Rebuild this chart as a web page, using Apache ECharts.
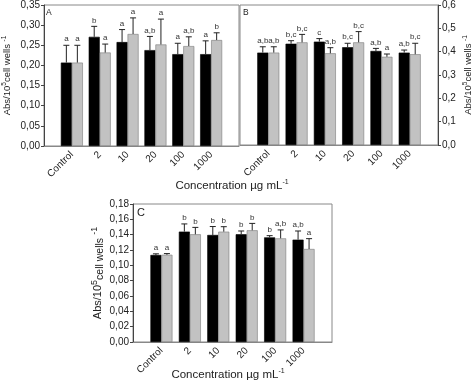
<!DOCTYPE html>
<html><head><meta charset="utf-8">
<script src="https://cdn.jsdelivr.net/npm/echarts@6/dist/echarts.min.js"></script>
<style>html,body{margin:0;padding:0;background:#fff}#c{width:474px;height:384px}</style>
</head><body><div id="c"></div>
<script>
const categories = ['Control', '2', '10', '20', '100', '1000'];

const aBlack = [0.207, 0.271, 0.258, 0.238, 0.228, 0.228];
const aBlackErr = [0.043, 0.026, 0.031, 0.034, 0.027, 0.033];
const aGrey = [0.207, 0.232, 0.278, 0.252, 0.248, 0.263];
const aGreyErr = [0.043, 0.021, 0.040, 0.063, 0.023, 0.018];
const aBlackLetters = ['a', 'b', 'a', 'a,b', 'a', 'a'];
const aGreyLetters = ['a', 'a', 'a', 'a', 'a,b', 'b'];

const bBlack = [0.396, 0.434, 0.443, 0.419, 0.403, 0.396];
const bBlackErr = [0.025, 0.013, 0.013, 0.017, 0.011, 0.011];
const bGrey = [0.396, 0.440, 0.393, 0.440, 0.378, 0.389];
const bGreyErr = [0.025, 0.034, 0.024, 0.046, 0.012, 0.047];
const bBlackLetters = ['a,b', 'b,c', 'c', 'b,c', 'a,b', 'a,b'];
const bGreyLetters = ['a,b', 'b,c', 'a,b', 'b,c', 'a', 'b,c'];

const cBlack = [0.1135, 0.144, 0.1396, 0.1405, 0.1365, 0.1335];
const cBlackErr = [0.0015, 0.010, 0.011, 0.0043, 0.0022, 0.0113];
const cGrey = [0.1138, 0.1405, 0.1439, 0.1457, 0.1352, 0.1213];
const cGreyErr = [0.0015, 0.009, 0.0065, 0.009, 0.011, 0.0135];
const cBlackLetters = ['a', 'b', 'b', 'b', 'b', 'a,b'];
const cGreyLetters = ['a', 'b', 'b', 'b', 'a,b', 'a'];

const FONT = 'Liberation Sans, Arial, sans-serif';
const BAR_W = 11;
const padded = ['', ...categories, ''];
const pad = arr => ['-', ...arr, '-'];

function commaFmt(d) { return v => v.toFixed(d).replace('.', ','); }

function xAxis(gi) {
  return {
    type: 'category', gridIndex: gi, data: padded, boundaryGap: false,
    axisTick: { show: false },
    axisLine: { lineStyle: { color: '#888', width: 1 } },
    axisLabel: { rotate: 45, interval: 0, fontSize: 10, color: '#222', fontFamily: FONT, margin: 7 },
    splitLine: { show: false }
  };
}
function yAxis(gi, max, interval, dec, pos, name, nameGap, rich) {
  return {
    type: 'value', gridIndex: gi, min: 0, max: max, interval: interval, position: pos,
    axisLine: { show: true, lineStyle: { color: '#444' } },
    axisTick: { show: true, length: 3, lineStyle: { color: '#444' } },
    axisLabel: { formatter: commaFmt(dec), fontSize: 10, color: '#222', fontFamily: FONT, margin: 4 },
    splitLine: { show: false },
    name: name, nameLocation: 'middle', nameRotate: 90, nameGap: nameGap,
    nameTextStyle: { fontFamily: FONT, color: '#222', rich: rich }
  };
}
function bars(gi, data, color, border) {
  return {
    type: 'bar', xAxisIndex: gi, yAxisIndex: gi, data: pad(data), barWidth: BAR_W, barGap: '0%',
    itemStyle: { color: color, borderColor: border, borderWidth: 0.6 }, silent: true, z: 2
  };
}
function errs(gi, means, sds, letters, side) {
  return {
    type: 'custom', xAxisIndex: gi, yAxisIndex: gi, z: 3, silent: true,
    data: means.map((m, i) => [i + 1, m, sds[i]]),
    encode: { x: 0, y: 1 },
    renderItem: (params, api) => {
      const i = api.value(0), m = api.value(1), e = api.value(2);
      const b = api.coord([i, m]), t = api.coord([i, m + e]);
      const x = b[0] + side * BAR_W / 2;
      return { type: 'group', children: [
        { type: 'line', shape: { x1: x, y1: b[1], x2: x, y2: t[1] }, style: { stroke: '#222', lineWidth: 1 } },
        { type: 'line', shape: { x1: x - 3, y1: t[1], x2: x + 3, y2: t[1] }, style: { stroke: '#222', lineWidth: 1 } },
        { type: 'text', x: x, y: t[1] - 2, style: { text: letters[params.dataIndex], fill: '#333', font: '8px ' + FONT, align: 'center', verticalAlign: 'bottom' } }
      ] };
    }
  };
}

const richSmall = {
  a: { fontSize: 9.5, lineHeight: 12, fontFamily: FONT, color: '#222' },
  s: { fontSize: 6.5, lineHeight: 7, verticalAlign: 'top', fontFamily: FONT, color: '#222' }
};
const richBig = {
  a: { fontSize: 11, lineHeight: 16, fontFamily: FONT, color: '#222' },
  s: { fontSize: 9, lineHeight: 10, verticalAlign: 'top', fontFamily: FONT, color: '#222' },
  b: { fontSize: 10.5, lineHeight: 11, verticalAlign: 'bottom', fontFamily: FONT, color: '#222' }
};
const nameSmall = '{a|Abs/10}{s|5}{a|cell wells }{s|-1}';
const nameBig = '{a|Abs/10}{s|5}{b|cell wells}{a| }{s|-1}';

const grids = [
  { left: 43, top: 5, width: 196, height: 141 },
  { left: 240, top: 5, width: 199, height: 140 },
  { left: 133, top: 204, width: 199, height: 138 }
].map(g => Object.assign({ show: true, borderColor: '#888', borderWidth: 1, backgroundColor: 'transparent' }, g));

const xTitleRich = {
  t: { fontSize: 11.5, lineHeight: 14, fontWeight: 'normal', fontFamily: FONT, color: '#222' },
  s: { fontSize: 7, lineHeight: 8, fontWeight: 'normal', verticalAlign: 'top', fontFamily: FONT, color: '#222' }
};

const option = {
  animation: false,
  backgroundColor: '#fff',
  grid: grids,
  xAxis: [xAxis(0), xAxis(1), xAxis(2)],
  yAxis: [
    yAxis(0, 0.35, 0.05, 2, 'left', nameSmall, 31, richSmall),
    yAxis(1, 0.6, 0.1, 1, 'right', nameSmall, 24, richSmall),
    yAxis(2, 0.18, 0.02, 2, 'left', nameBig, 26, richBig)
  ],
  title: [
    { text: '{t|Concentration µg mL}{s|-1}', left: 232, textAlign: 'center', top: 179, padding: 0, textStyle: { fontWeight: 'normal', rich: xTitleRich } },
    { text: '{t|Concentration µg mL}{s|-1}', left: 228, textAlign: 'center', top: 368, padding: 0, textStyle: { fontWeight: 'normal', rich: xTitleRich } },
    { text: 'A', left: 46, top: 8, padding: 0, textStyle: { fontSize: 8.5, fontWeight: 'normal', color: '#222', fontFamily: FONT } },
    { text: 'B', left: 243, top: 8, padding: 0, textStyle: { fontSize: 8.5, fontWeight: 'normal', color: '#222', fontFamily: FONT } },
    { text: 'C', left: 137, top: 207, padding: 0, textStyle: { fontSize: 11, fontWeight: 'normal', color: '#222', fontFamily: FONT } }
  ],
  series: [
    bars(0, aBlack, '#000', '#000'), bars(0, aGrey, '#c2c2c2', '#7a7a7a'),
    errs(0, aBlack, aBlackErr, aBlackLetters, -1), errs(0, aGrey, aGreyErr, aGreyLetters, 1),
    bars(1, bBlack, '#000', '#000'), bars(1, bGrey, '#c2c2c2', '#7a7a7a'),
    errs(1, bBlack, bBlackErr, bBlackLetters, -1), errs(1, bGrey, bGreyErr, bGreyLetters, 1),
    bars(2, cBlack, '#000', '#000'), bars(2, cGrey, '#c2c2c2', '#7a7a7a'),
    errs(2, cBlack, cBlackErr, cBlackLetters, -1), errs(2, cGrey, cGreyErr, cGreyLetters, 1)
  ]
};
const chart = echarts.init(document.getElementById('c'), null, { renderer: 'canvas' });
chart.setOption(option);
</script></body></html>
